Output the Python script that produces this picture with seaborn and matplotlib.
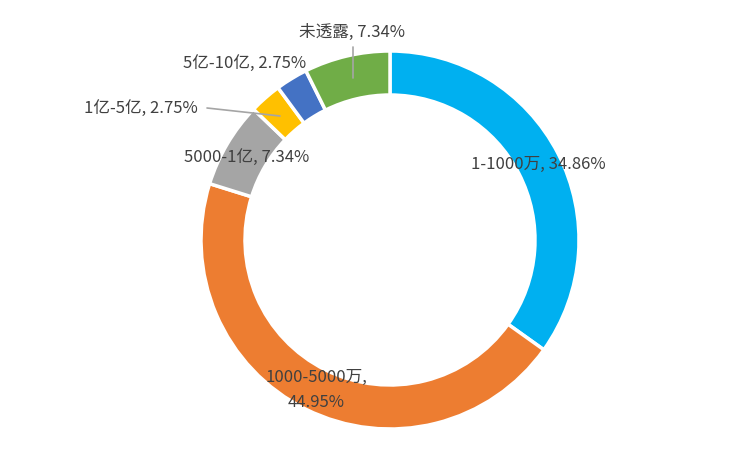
import matplotlib
matplotlib.use('Agg')
import matplotlib.pyplot as plt
import seaborn as sns

# 数据
categories = ['1-1000万', '1000-5000万', '5000-1亿', '1亿-5亿', '5亿-10亿', '未透露']
values = [34.86, 44.95, 7.34, 2.75, 2.75, 7.34]
colors = ['#00B0F0', '#ED7D31', '#A5A5A5', '#FFC000', '#4472C4', '#70AD47']

sns.set_theme(style='white')
plt.rcParams['font.family'] = ['Noto Sans CJK SC', 'DejaVu Sans']

H = 450
fig = plt.figure(figsize=(7.5, 4.5), dpi=100)
ax = fig.add_axes([0, 0, 1, 1])

# 环形图
ax.pie(values, colors=colors, startangle=90, counterclock=False,
       center=(390, H - 240), radius=189, frame=True,
       wedgeprops=dict(width=44, edgecolor='white', linewidth=2.5))
ax.set_xlim(0, 750)
ax.set_ylim(0, H)
ax.set_aspect('equal')
ax.axis('off')

# 数据标签 (位置按像素, y 从上往下)
lbl = [f'{c}, {v:.2f}%' for c, v in zip(categories, values)]
txt = dict(fontsize=12, color='#404040', ha='center', va='center')
ax.text(538, H - 164, lbl[0], **txt)
ax.text(316, H - 390, f'{categories[1]},\n{values[1]:.2f}%', linespacing=1.55, **txt)
ax.text(247, H - 157, lbl[2], **txt)
ax.text(141, H - 108, lbl[3], **txt)
ax.text(245, H - 63, lbl[4], **txt)
ax.text(352, H - 32, lbl[5], **txt)

# 引导线
ax.plot([207, 280], [H - 108, H - 116], color='#A5A5A5', lw=1.2)
ax.plot([353, 353], [H - 47, H - 78], color='#A5A5A5', lw=1.2)

fig.savefig('out.png', dpi=100, facecolor='white')
